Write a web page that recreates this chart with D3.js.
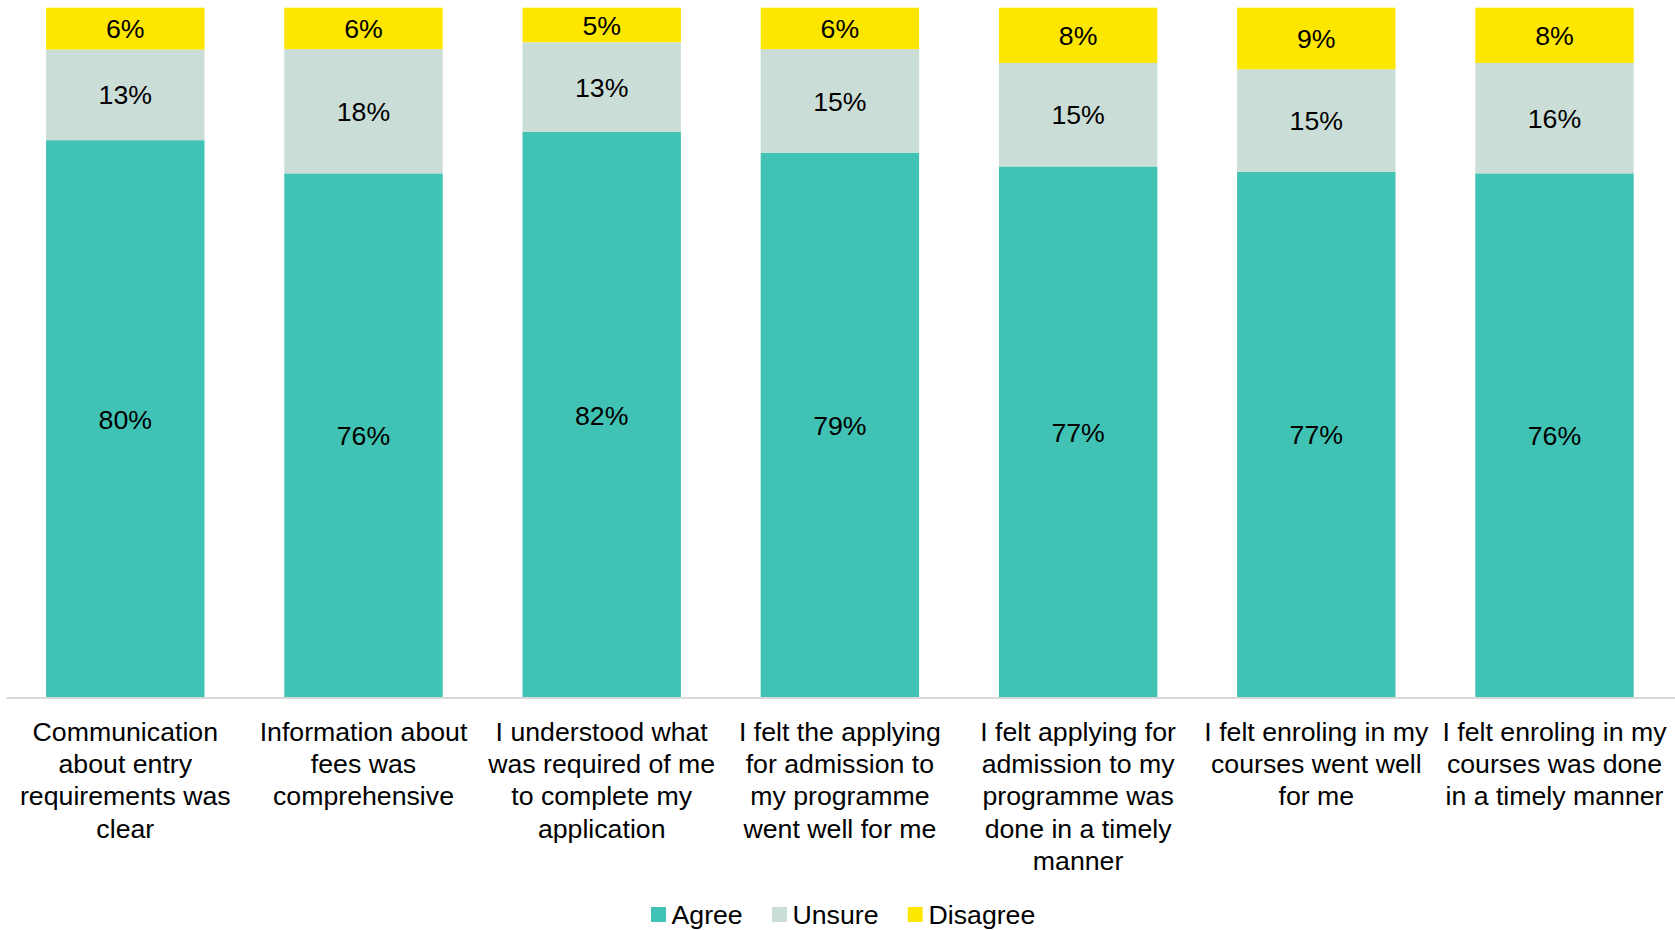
<!DOCTYPE html>
<html>
<head>
<meta charset="utf-8">
<script src="https://cdn.jsdelivr.net/npm/d3@7"></script>
<style>
  html, body { margin: 0; padding: 0; background: #fff; }
  svg { display: block; font-family: "Liberation Sans", Arial, sans-serif; }
</style>
</head>
<body>
<svg id="chart" width="1675" height="930"></svg>
<script>
// Survey statements (line breaks mark how each label wraps under its bar)
const categories = [
  "Communication\nabout entry\nrequirements was\nclear",
  "Information about\nfees was\ncomprehensive",
  "I understood what\nwas required of me\nto complete my\napplication",
  "I felt the applying\nfor admission to\nmy programme\nwent well for me",
  "I felt applying for\nadmission to my\nprogramme was\ndone in a timely\nmanner",
  "I felt enroling in my\ncourses went well\nfor me",
  "I felt enroling in my\ncourses was done\nin a timely manner"
];
const seriesNames = ["Agree", "Unsure", "Disagree"];
const agree    = [80, 76, 82, 79, 77, 77, 76];
const unsure   = [13, 18, 13, 15, 15, 15, 16];
const disagree = [6, 6, 5, 6, 8, 9, 8];
const colors = ["#40C3B4", "#CBDDD7", "#FDE600"];

const rows = categories.map((c, i) => ({
  category: c, Agree: agree[i], Unsure: unsure[i], Disagree: disagree[i]
}));

const svg = d3.select("#chart");
const baseY = 698, topY = 7.7;

const x = d3.scaleBand()
  .domain(categories)
  .range([6.2, 1673.6])
  .paddingInner(0.335)
  .paddingOuter(0.1675);

const y = d3.scaleLinear().domain([0, 1]).range([baseY, topY]);

// 100% stacked layout
const stacked = d3.stack().keys(seriesNames).offset(d3.stackOffsetExpand)(rows);

const layers = svg.append("g").selectAll("g")
  .data(stacked)
  .join("g")
  .attr("fill", (d, i) => colors[i]);

layers.selectAll("rect")
  .data(d => d.map(p => ({ p, key: d.key })))
  .join("rect")
  .attr("x", d => x(d.p.data.category))
  .attr("width", x.bandwidth())
  .attr("y", d => y(d.p[1]))
  .attr("height", d => y(d.p[0]) - y(d.p[1]));

// Value labels centred in each segment
layers.selectAll("text")
  .data(d => d.map(p => ({ p, key: d.key })))
  .join("text")
  .attr("x", d => x(d.p.data.category) + x.bandwidth() / 2)
  .attr("y", d => (y(d.p[0]) + y(d.p[1])) / 2)
  .attr("dy", "0.36em")
  .attr("text-anchor", "middle")
  .attr("fill", "#000")
  .attr("font-size", "26.7px")
  .text(d => d.p.data[d.key] + "%");

// Category axis
const axis = svg.append("g")
  .attr("transform", `translate(0,${baseY})`)
  .call(d3.axisBottom(x).tickSize(0).tickFormat(""));
axis.select(".domain").attr("stroke", "#D9D9D9").attr("stroke-width", 2)
  .attr("d", "M6.5,0H1675");

const labels = svg.append("g").selectAll("text")
  .data(categories)
  .join("text")
  .attr("x", d => x(d) + x.bandwidth() / 2)
  .attr("y", 741)
  .attr("text-anchor", "middle")
  .attr("font-size", "26.7px")
  .attr("fill", "#000");
labels.selectAll("tspan")
  .data(d => d.split("\n"))
  .join("tspan")
  .attr("x", function () { return this.parentNode.getAttribute("x"); })
  .attr("dy", (d, i) => i === 0 ? 0 : 32.2)
  .text(d => d);

// Legend
const legendItems = [
  { name: seriesNames[0], color: colors[0], sx: 651, tx: 671.5 },
  { name: seriesNames[1], color: colors[1], sx: 772, tx: 792.5 },
  { name: seriesNames[2], color: colors[2], sx: 907.7, tx: 928.5 }
];
const legend = svg.append("g").selectAll("g").data(legendItems).join("g");
legend.append("rect")
  .attr("x", d => d.sx).attr("y", 907)
  .attr("width", 15).attr("height", 15)
  .attr("fill", d => d.color);
legend.append("text")
  .attr("x", d => d.tx).attr("y", 923.5)
  .attr("font-size", "26.7px")
  .attr("fill", "#000")
  .text(d => d.name);
</script>
</body>
</html>
